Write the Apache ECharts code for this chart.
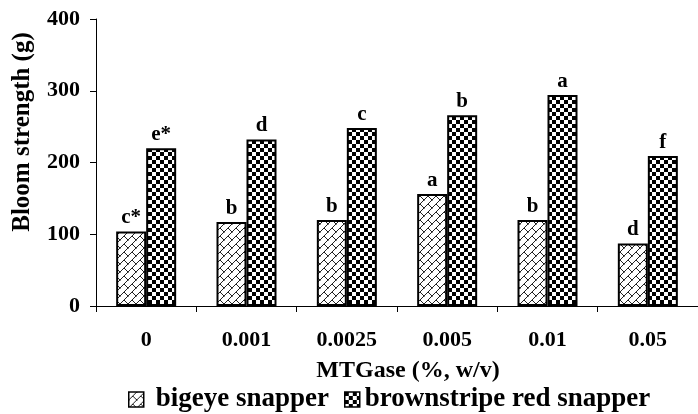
<!DOCTYPE html>
<html>
<head>
<meta charset="utf-8">
<script src="https://cdn.jsdelivr.net/npm/echarts@6/dist/echarts.min.js"></script>
<style>
html,body{margin:0;padding:0;background:#fff;}
#chart{width:698px;height:414px;}
</style>
</head>
<body>
<div id="chart"></div>
<script>
var categories = ['0', '0.001', '0.0025', '0.005', '0.01', '0.05'];
var bigeyeValues = [104, 117, 120, 156, 120, 87];
var brownstripeValues = [220, 232, 248, 266, 294, 209];
var bigeyeLetters = ['c*', 'b', 'b', 'a', 'b', 'd'];
var brownstripeLetters = ['e*', 'd', 'c', 'b', 'a', 'f'];
var yTicks = [0, 100, 200, 300, 400];
var seriesNames = ['bigeye snapper', 'brownstripe red snapper'];

var FONT = '"Liberation Serif", "Times New Roman", serif';

function checkerPattern() {
  var c = document.createElement('canvas');
  c.width = 8; c.height = 8;
  var g = c.getContext('2d');
  g.fillStyle = '#fff'; g.fillRect(0, 0, 8, 8);
  g.fillStyle = '#000';
  g.fillRect(0, 0, 4, 4);
  g.fillRect(4, 4, 4, 4);
  return c;
}
function hatchPattern() {
  var c = document.createElement('canvas');
  c.width = 8; c.height = 8;
  var g = c.getContext('2d');
  g.fillStyle = '#fff'; g.fillRect(0, 0, 8, 8);
  g.strokeStyle = '#222'; g.lineWidth = 1;
  g.beginPath();
  g.moveTo(-1, 9); g.lineTo(9, -1);
  g.moveTo(4, 4); g.lineTo(8, 8);
  g.moveTo(0, 0); g.lineTo(0.5, 0.5);
  g.stroke();
  return c;
}

var chart = echarts.init(document.getElementById('chart'));
var labelStyle = {
  show: true, position: 'top', distance: 3,
  fontFamily: FONT, fontWeight: 'bold', fontSize: 21, color: '#000'
};
chart.setOption({
  animation: false,
  backgroundColor: '#fff',
  grid: { left: 96, right: -11, top: 19, bottom: 108, containLabel: false },
  legend: {
    data: [
      { name: seriesNames[0], icon: 'rect', textStyle: { padding: [0, 0, 0, 7] } },
      { name: seriesNames[1], icon: 'rect', textStyle: { padding: [0, 0, 0, 0] } }
    ],
    left: 128, top: 386, padding: 0,
    itemWidth: 15, itemHeight: 15, itemGap: 15,
    itemStyle: { borderColor: '#000', borderWidth: 1.5 },
    textStyle: { fontFamily: FONT, fontWeight: 'bold', fontSize: 27, color: '#000' }
  },
  xAxis: {
    type: 'category',
    data: categories,
    axisLine: { lineStyle: { color: '#000', width: 1 } },
    axisTick: { show: true, length: 6, inside: false, lineStyle: { color: '#000' } },
    axisLabel: { margin: 23, fontFamily: FONT, fontWeight: 'bold', fontSize: 22, color: '#000' }
  },
  yAxis: {
    type: 'value',
    min: 0, max: 400, interval: 100,
    axisLine: { show: true, lineStyle: { color: '#000', width: 1 } },
    axisTick: { show: true, length: 6, lineStyle: { color: '#000' } },
    splitLine: { show: false },
    axisLabel: {
      margin: 16, fontFamily: FONT, fontWeight: 'bold', fontSize: 22, color: '#000',
      formatter: function (v) { return yTicks.indexOf(v) >= 0 ? String(v) : ''; }
    }
  },
  graphic: [{
    type: 'text',
    x: 35, y: 132,
    rotation: Math.PI / 2,
    style: {
      text: 'Bloom strength (g)',
      font: 'bold 25px ' + FONT,
      fill: '#000',
      textAlign: 'center',
      textVerticalAlign: 'bottom'
    }
  }, {
    type: 'text',
    x: 408, y: 371,
    style: {
      text: 'MTGase (%, w/v)',
      font: 'bold 24px ' + FONT,
      fill: '#000',
      textAlign: 'center',
      textVerticalAlign: 'middle'
    }
  }],
  series: [{
    name: seriesNames[0],
    type: 'bar',
    data: bigeyeValues,
    barWidth: 30,
    barGap: '0%',
    itemStyle: { color: { image: hatchPattern(), repeat: 'repeat' }, borderColor: '#000', borderWidth: 2 },
    label: Object.assign({}, labelStyle, { formatter: function (p) { return bigeyeLetters[p.dataIndex]; } })
  }, {
    name: seriesNames[1],
    type: 'bar',
    data: brownstripeValues,
    barWidth: 30,
    barGap: '0%',
    itemStyle: { color: { image: checkerPattern(), repeat: 'repeat' }, borderColor: '#000', borderWidth: 2 },
    label: Object.assign({}, labelStyle, { formatter: function (p) { return brownstripeLetters[p.dataIndex]; } })
  }]
});
</script>
</body>
</html>
